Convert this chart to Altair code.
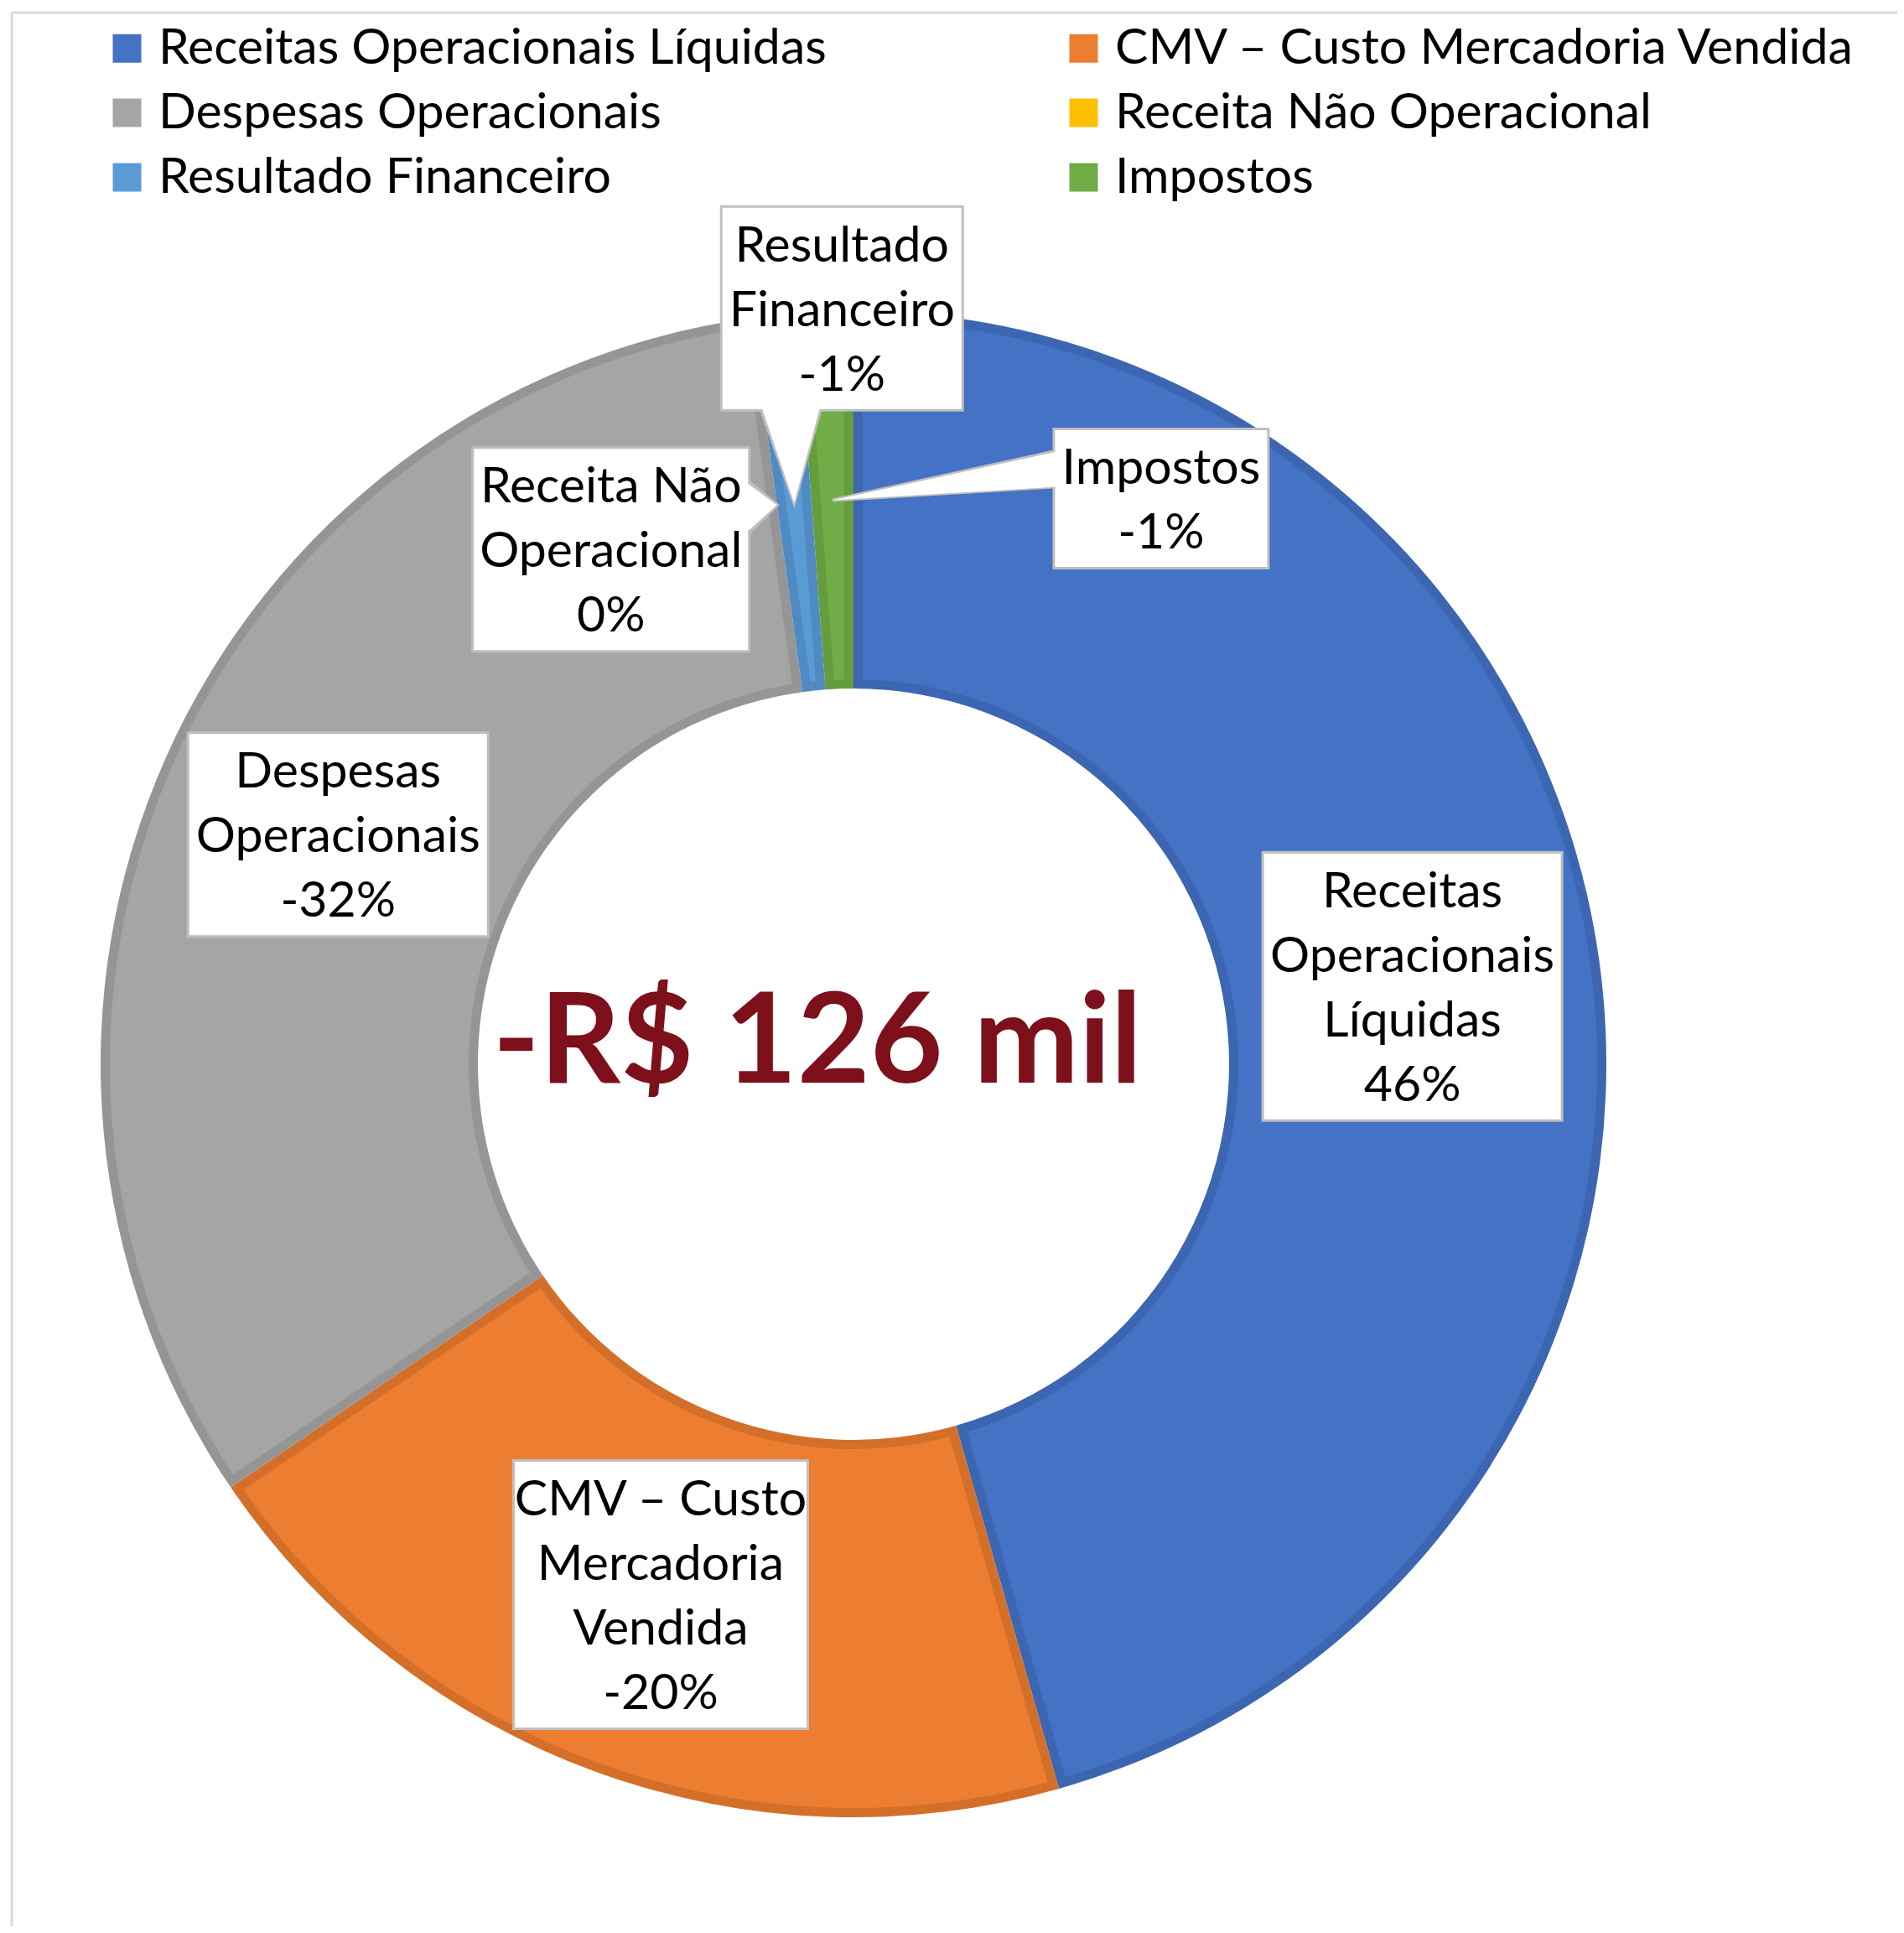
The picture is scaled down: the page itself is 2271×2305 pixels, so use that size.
import altair as alt
import pandas as pd
import numpy as np

# ---------------- data (R$ mil) ----------------
categorias = [
    "Receitas Operacionais Líquidas",
    "CMV – Custo Mercadoria Vendida",
    "Despesas Operacionais",
    "Receita Não Operacional",
    "Resultado Financeiro",
    "Impostos",
]
valores = [653, -285, -463, 0, -14, -17]
rotulos_pct = ["46%", "-20%", "-32%", "0%", "-1%", "-1%"]
rotulos_nome = [
    "Receitas\nOperacionais\nLíquidas",
    "CMV – Custo\nMercadoria\nVendida",
    "Despesas\nOperacionais",
    "Receita Não\nOperacional",
    "Resultado\nFinanceiro",
    "Impostos",
]

# ---------------- styles / layout ----------------
cores = ["#4472C4", "#ED7D31", "#A5A5A5", "#FFC000", "#5B9BD5", "#70AD47"]
cores_borda = ["#3C66B2", "#D46F2A", "#959595", "#E5AC00", "#4F8BC2", "#649C3E"]
W, H = 2255, 2289
CX, CY = 1010, 1261
R_OUT, R_IN = 898, 448
BAND = 11
LABEL_R = (R_OUT + R_IN) / 2
LINE_H = 77
FONT = "Lato"
FSIZE = 59
# label offsets from the slice anchor (callouts moved by hand in the original)
desloc = [(0, 0), (0, 0), (0, 0), (-198, 53), (57, -232), (392, -2)]
larg_caixa = [357, 351, 358, 330, 288, 256]
# legend is laid out column by column by Vega; the original reads row by row
ordem_legenda = [0, 2, 4, 1, 3, 5]

absv = np.abs(np.array(valores, dtype=float))
total = absv.sum()
inicio = np.concatenate([[0], np.cumsum(absv)[:-1]])
meio = (inicio + absv / 2) / total * 2 * np.pi
ax = CX + LABEL_R * np.sin(meio)
ay = CY - LABEL_R * np.cos(meio)

linhas = [rotulos_nome[i] + "\n" + rotulos_pct[i] for i in range(len(categorias))]
nl = np.array([t.count("\n") + 1 for t in linhas])
bx = ax + np.array([d[0] for d in desloc])
by = ay + np.array([d[1] for d in desloc])
bw = np.array(larg_caixa, dtype=float)
bh = nl * LINE_H + 12

df = pd.DataFrame({
    "cat": categorias,
    "valor": valores,
    "absval": absv,
    "idx": list(range(len(categorias))),
    "borda": cores_borda,
    "texto": linhas,
    "bx": bx, "by": by,
    "ty": by - (nl - 1) / 2 * LINE_H + 3,
    "x1": bx - bw / 2, "x2": bx + bw / 2,
    "y1": by - bh / 2, "y2": by + bh / 2,
})

# callout pointers for the three small slices: base points on the box edge, tip at the slice
def ponteiro(i, base, inset):
    rows = []
    (p1, p2) = base
    pts = [p1, (ax[i], ay[i]), p2]
    for k, (px, py) in enumerate(pts):
        if k != 1:
            px, py = px + inset[0], py + inset[1]
        rows.append({"cat": categorias[i], "k": k, "px": px, "py": py})
    return rows

def bases(i):
    x0, x1_, y0, y1_ = df.x1[i], df.x2[i], df.y1[i], df.y2[i]
    if i == 3:   # Receita Não Operacional: right edge
        return ((x1_, df.by[i] - 80), (x1_, df.by[i] - 20)), (-4, 0)
    if i == 4:   # Resultado Financeiro: bottom edge
        return ((df.bx[i] - 96, y1_), (df.bx[i] - 26, y1_)), (0, -4)
    return ((x0, df.by[i] - 56), (x0, df.by[i] - 14)), (4, 0)

rows_s, rows_f = [], []
for i in (3, 4, 5):
    b, ins = bases(i)
    rows_s += ponteiro(i, b, (0, 0))
    rows_f += ponteiro(i, b, ins)
df_ps = pd.DataFrame(rows_s)
df_pf = pd.DataFrame(rows_f)

centro_txt = f"-R$ {abs(int(sum(valores)))} mil"

# ---------------- chart ----------------
dummy = pd.DataFrame({"a": [0]})
frame_h = alt.Chart(dummy).mark_rule(color="#D9D9D9", strokeWidth=3).encode(
    x=alt.value(6), x2=alt.value(W), y=alt.value(7), y2=alt.value(7))
frame_v = alt.Chart(dummy).mark_rule(color="#D9D9D9", strokeWidth=3).encode(
    x=alt.value(6), x2=alt.value(6), y=alt.value(7), y2=alt.value(H))

theta = alt.Theta("absval:Q", stack=True)
order = alt.Order("idx:Q")

base = alt.Chart(df).mark_arc(outerRadius=R_OUT, innerRadius=R_IN, x=CX, y=CY).encode(
    theta=theta, order=order, fill=alt.Fill("borda:N", scale=None))

dom_leg = [categorias[i] for i in ordem_legenda]
cor_leg = [cores[i] for i in ordem_legenda]
pad_r = np.sqrt((R_OUT - BAND) ** 2 + (R_IN + BAND) ** 2)
overlay = alt.Chart(df).mark_arc(
    outerRadius=R_OUT - BAND, innerRadius=R_IN + BAND, x=CX, y=CY,
    padAngle=float(2 * BAND / pad_r)).encode(
    theta=theta, order=order,
    color=alt.Color("cat:N", sort=dom_leg,
                    scale=alt.Scale(domain=dom_leg, range=cor_leg),
                    legend=alt.Legend(
                        title=None, orient="none", legendX=114, legendY=20,
                        columns=2, columnPadding=277, rowPadding=17, padding=0,
                        symbolType="square", symbolSize=1156, symbolStrokeWidth=0,
                        labelFont=FONT, labelFontSize=FSIZE, labelColor="black",
                        labelLimit=2000, labelOffset=8)))

ptr_s = alt.Chart(df_ps).mark_line(fill="white", stroke="#BFBFBF", strokeWidth=4).encode(
    x=alt.X("px:Q", scale=None, axis=None), y=alt.Y("py:Q", scale=None, axis=None),
    detail="cat:N", order="k:Q")
boxes = alt.Chart(df).mark_rect(fill="white", stroke="#BFBFBF", strokeWidth=3).encode(
    x=alt.X("x1:Q", scale=None, axis=None), x2="x2:Q",
    y=alt.Y("y1:Q", scale=None, axis=None), y2="y2:Q")
ptr_f = alt.Chart(df_pf).mark_line(fill="white", strokeWidth=0, strokeOpacity=0).encode(
    x=alt.X("px:Q", scale=None, axis=None), y=alt.Y("py:Q", scale=None, axis=None),
    detail="cat:N", order="k:Q")
labels = alt.Chart(df).mark_text(font=FONT, fontSize=FSIZE, lineHeight=LINE_H, lineBreak="\n",
                                 align="center", baseline="middle", color="black").encode(
    x=alt.X("bx:Q", scale=None, axis=None), y=alt.Y("ty:Q", scale=None, axis=None),
    text="texto:N")
centro = alt.Chart(pd.DataFrame({"t": [centro_txt]})).mark_text(
    font=FONT, fontWeight="bold", fontSize=150, color="#7D101B",
    align="center", baseline="alphabetic", x=CX - 43, y=1283).encode(text="t:N")

chart = alt.layer(frame_h, frame_v, base, overlay, ptr_s, boxes, ptr_f, labels, centro).properties(
    width=W, height=H, padding=0, autosize="none", background="white"
).configure_view(stroke=None)

chart.save("out.html", embed_options={"renderer": "svg", "actions": False})
